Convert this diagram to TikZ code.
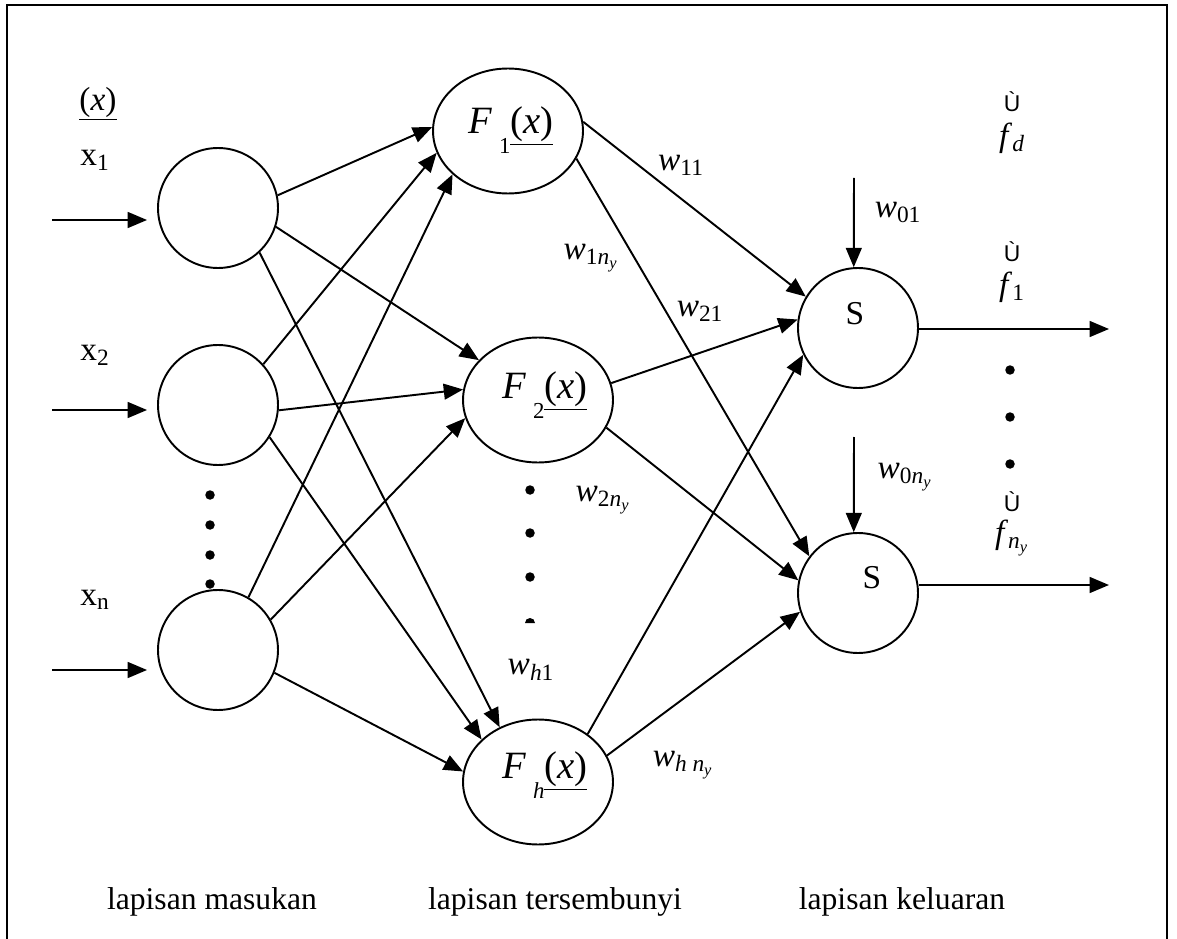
\documentclass[tikz,border=0pt]{standalone}
\usepackage{fontspec}
\setmainfont{Liberation Serif}
\newfontfamily\hatfont{Liberation Sans}
\usetikzlibrary{positioning,arrows.meta,shapes.geometric}

\begin{document}
\begin{tikzpicture}[
    x=0.02cm, y=-0.02cm,
    line width=1.1pt,
    >={Triangle[length=11pt,width=9pt]},
    unit/.style={circle, draw, minimum size=2.4cm, inner sep=0pt},
    hidden/.style={ellipse, draw, minimum width=3cm, minimum height=2.5cm, inner sep=0pt},
    lbl/.style={inner sep=0pt, font=\fontsize{19}{22}\selectfont},
    flbl/.style={inner sep=0pt, font=\fontsize{22}{24}\selectfont},
    hat/.style={inner sep=0pt, font=\hatfont\fontsize{13}{15}\selectfont},
    layer/.style={inner sep=0pt, font=\fontsize{18}{22}\selectfont},
    dot/.style={circle, fill, minimum size=0.19cm, inner sep=0pt}
]
\useasboundingbox (0,0) rectangle (1177,939);
% open frame (no bottom edge)
\draw[line width=0.9pt] (7,939) -- (7,5) -- (1167,5) -- (1167,939);

% input layer
\node[unit] (in1) at (218,208) {};
\node[unit] (in2) at (218,405) {};
\node[unit] (in3) at (218,650) {};
% hidden layer
\node[hidden] (h1) at (508,131) {};
\node[hidden] (h2) at (538,400) {};
\node[hidden] (hh) at (538,782) {};
% output layer
\node[unit] (out1) at (858,328) {};
\node[unit] (out2) at (858,593) {};

\newcommand{\fsub}[1]{\raisebox{-1.1ex}{\fontsize{13}{14}\selectfont #1}}
\node[flbl] (f1lbl) at (511,130) {\textit{F}\,\fsub{1}\underline{(\textit{x})}};
\node[flbl] (f2lbl) at (545,395) {\textit{F}\,\fsub{2}\underline{(\textit{x})}};
\node[flbl] (fhlbl) at (545,775) {\textit{F}\,\fsub{\textit{h}}\underline{(\textit{x})}};
\node[lbl] (s1lbl) at (855,314) {S};
\node[lbl] (s2lbl) at (872,578) {S};

% inputs
\coordinate (src1) at (52,220);
\coordinate (src2) at (52,410);
\coordinate (src3) at (52,670);
\foreach \s/\n in {src1/in1, src2/in2, src3/in3}
    \draw[->, shorten >=0.2cm] (\s) -- (\s -| \n.west);

% input -> hidden
\foreach \a/\b in {in1.12/h1.177, in1.-18/h2.146, in1.-47/hh.125,
                   in2.42/h1.197, in2.-5/h2.172, in2.-32/hh.143,
                   in3.60/h1.218, in3.30/h2.194, in3.-22/hh.172}
    \draw[->] (\a) -- (\b);

% hidden -> output
\foreach \a/\b in {h1.7/out1.149, h1.-22/out2.143,
                   h2.13/out1.172, h2.-22/out2.168,
                   hh.44/out1.206, hh.21/out2.198}
    \draw[->] (\a) -- (\b);

% bias
\coordinate (b1) at (854,178);
\coordinate (b2) at (854,437);
\draw[->] (b1) -- (out1.94);
\draw[->] (b2) -- (out2.94);

% outputs
\coordinate (y1) at (1109,329);
\coordinate (y2) at (1109,585);
\draw[->] (out1.east |- y1) -- (y1);
\draw[->] (out2.east |- y2) -- (y2);

% dots
\foreach \y in {495,525,555,584} \node[dot] (din\y) at (210,\y) {};
\foreach \y in {490,533,577} \node[dot] (dhid\y) at (530,\y) {};
\fill (525,623) arc (180:360:5) -- cycle;
\foreach \y in {370,417,464} \node[dot] (dout\y) at (1010,\y) {};

% input labels
\node[lbl] (xlbl) at (98,104) {\underline{(\textit{x})}};
\node[lbl] (x1lbl) at (95,160) {x\textsubscript{1}};
\node[lbl] (x2lbl) at (95,355) {x\textsubscript{2}};
\node[lbl] (xnlbl) at (95,600) {x\textsubscript{n}};

% weights
\node[lbl] (w11) at (681,165) {\textit{w}\textsubscript{11}};
\node[lbl] (w1n) at (591,258) {\textit{w}\textsubscript{1\textit{n}\textsubscript{\textit{y}}}};
\node[lbl] (w21) at (700,311) {\textit{w}\textsubscript{21}};
\node[lbl] (w2n) at (603,500) {\textit{w}\textsubscript{2\textit{n}\textsubscript{\textit{y}}}};
\node[lbl] (wh1) at (531,670) {\textit{w}\textsubscript{\textit{h}1}};
\node[lbl] (whn) at (683,765) {\textit{w}\textsubscript{\textit{h}~\textit{n}\textsubscript{\textit{y}}}};
\node[lbl] (w01) at (898,212) {\textit{w}\textsubscript{01}};
\node[lbl] (w0n) at (905,477) {\textit{w}\textsubscript{0\textit{n}\textsubscript{\textit{y}}}};

% output labels
\node[hat] (hd) at (1012,102) {Ù};
\node[lbl] (fd) at (1012,138) {\textit{f}\textsubscript{\textit{d}}};
\node[hat] (h1hat) at (1012,252) {Ù};
\node[lbl] (f1) at (1012,287) {\textit{f}\textsubscript{1}};
\node[hat] (hn) at (1012,502) {Ù};
\node[lbl] (fn) at (1012,538) {\textit{f}\textsubscript{\textit{n}\textsubscript{\textit{y}}}};

% layer names
\node[layer] (lin) at (212,902) {lapisan masukan};
\node[layer] (lhid) at (555,902) {lapisan tersembunyi};
\node[layer] (lout) at (902,902) {lapisan keluaran};
\end{tikzpicture}
\end{document}
